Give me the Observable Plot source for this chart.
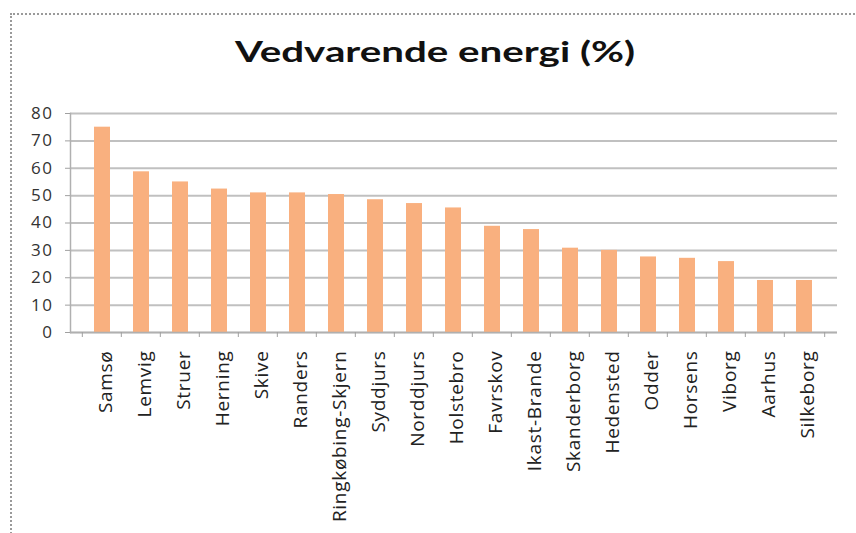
<!DOCTYPE html>
<html>
<head>
<meta charset="utf-8">
<script src="https://cdn.jsdelivr.net/npm/d3@7"></script>
<script src="https://cdn.jsdelivr.net/npm/@observablehq/plot@0.6"></script>
<style>
  html, body { margin: 0; padding: 0; background: #fff; }
  #wrap { position: relative; width: 856px; height: 533px; overflow: hidden; }
  #border { position: absolute; left: 10px; top: 13px; width: 900px; height: 600px;
            border-left: 2px dotted #9a9a9a; border-top: 2px dotted #9a9a9a; box-sizing: border-box; }
  #title { position: absolute; left: 435px; top: 37px; white-space: nowrap; line-height: 1;
           font-family: Lato, "Open Sans", sans-serif; font-weight: 700; font-size: 28px; color: #111;
           transform-origin: 0 0; }
  #chart { position: absolute; left: 0; top: 0; }
</style>
</head>
<body>
<div id="wrap">
  <div id="border"></div>
  <div id="chart"></div>
  <span id="title">Vedvarende energi (%)</span>
</div>
<script>
const municipalities = ["Samsø","Lemvig","Struer","Herning","Skive","Randers","Ringkøbing-Skjern","Syddjurs","Norddjurs","Holstebro","Favrskov","Ikast-Brande","Skanderborg","Hedensted","Odder","Horsens","Viborg","Aarhus","Silkeborg"];
const shares = [75, 58.7, 55, 52.4, 51, 51, 50.4, 48.5, 47.1, 45.5, 38.8, 37.6, 30.8, 30, 27.6, 27.1, 25.9, 19, 19];
const yTicks = [0, 10, 20, 30, 40, 50, 60, 70, 80];

const data = municipalities.map((name, i) => ({name, value: shares[i]}));

const W = 856, H = 533;
const mL = 70, mR = 19, mT = 113, mB = 201;
const step = (W - mL - mR) / municipalities.length;

const chart = Plot.plot({
  width: W,
  height: H,
  marginLeft: mL,
  marginRight: mR,
  marginTop: mT,
  marginBottom: mB,
  style: {fontFamily: "'Open Sans', Lato, sans-serif", background: "transparent", overflow: "visible"},
  x: {domain: municipalities, padding: 0.58, label: null},
  y: {domain: [0, 80], label: null},
  marks: [
    Plot.gridY(yTicks, {stroke: "#c0c0c0", strokeOpacity: 1, strokeWidth: 2}),
    Plot.barY(data, {x: "name", y: "value", fill: "#f9b07f"}),
    Plot.ruleY([0], {stroke: "#b0b0b0", strokeWidth: 1.5}),
    Plot.ruleX(municipalities, {x: d => d, dx: -step / 2, y1: 0, y2: 0, insetBottom: -5, stroke: "#a0a0a0"}),
    Plot.ruleX([municipalities[municipalities.length - 1]], {x: d => d, dx: step / 2, y1: 0, y2: 0, insetBottom: -5, stroke: "#a0a0a0"}),
    Plot.frame({anchor: "left", stroke: "#b0b0b0", strokeWidth: 1.5}),
    Plot.axisY(yTicks, {tickSize: 5, tickPadding: 12, stroke: "#a0a0a0", fill: "#333", fontSize: 17, label: null, className: "yax"}),
    Plot.axisX({tickSize: 0, tickPadding: 18, tickRotate: -90, fill: "#222", fontSize: 19, label: null, dx: 3, className: "xax"})
  ]
});
document.getElementById("chart").appendChild(chart);

// widen glyph spacing to match the reference's wide rendering
chart.querySelectorAll(".yax text").forEach(t => t.setAttribute("letter-spacing", "1.5"));
chart.querySelectorAll(".xax text").forEach(t => t.setAttribute("letter-spacing", "0.7"));

// stretch title to the reference's width
const title = document.getElementById("title");
const tw = title.getBoundingClientRect().width;
const sx = 400 / tw;
title.style.left = (435 - 200) + "px";
title.style.transform = `scaleX(${sx})`;
</script>
</body>
</html>
